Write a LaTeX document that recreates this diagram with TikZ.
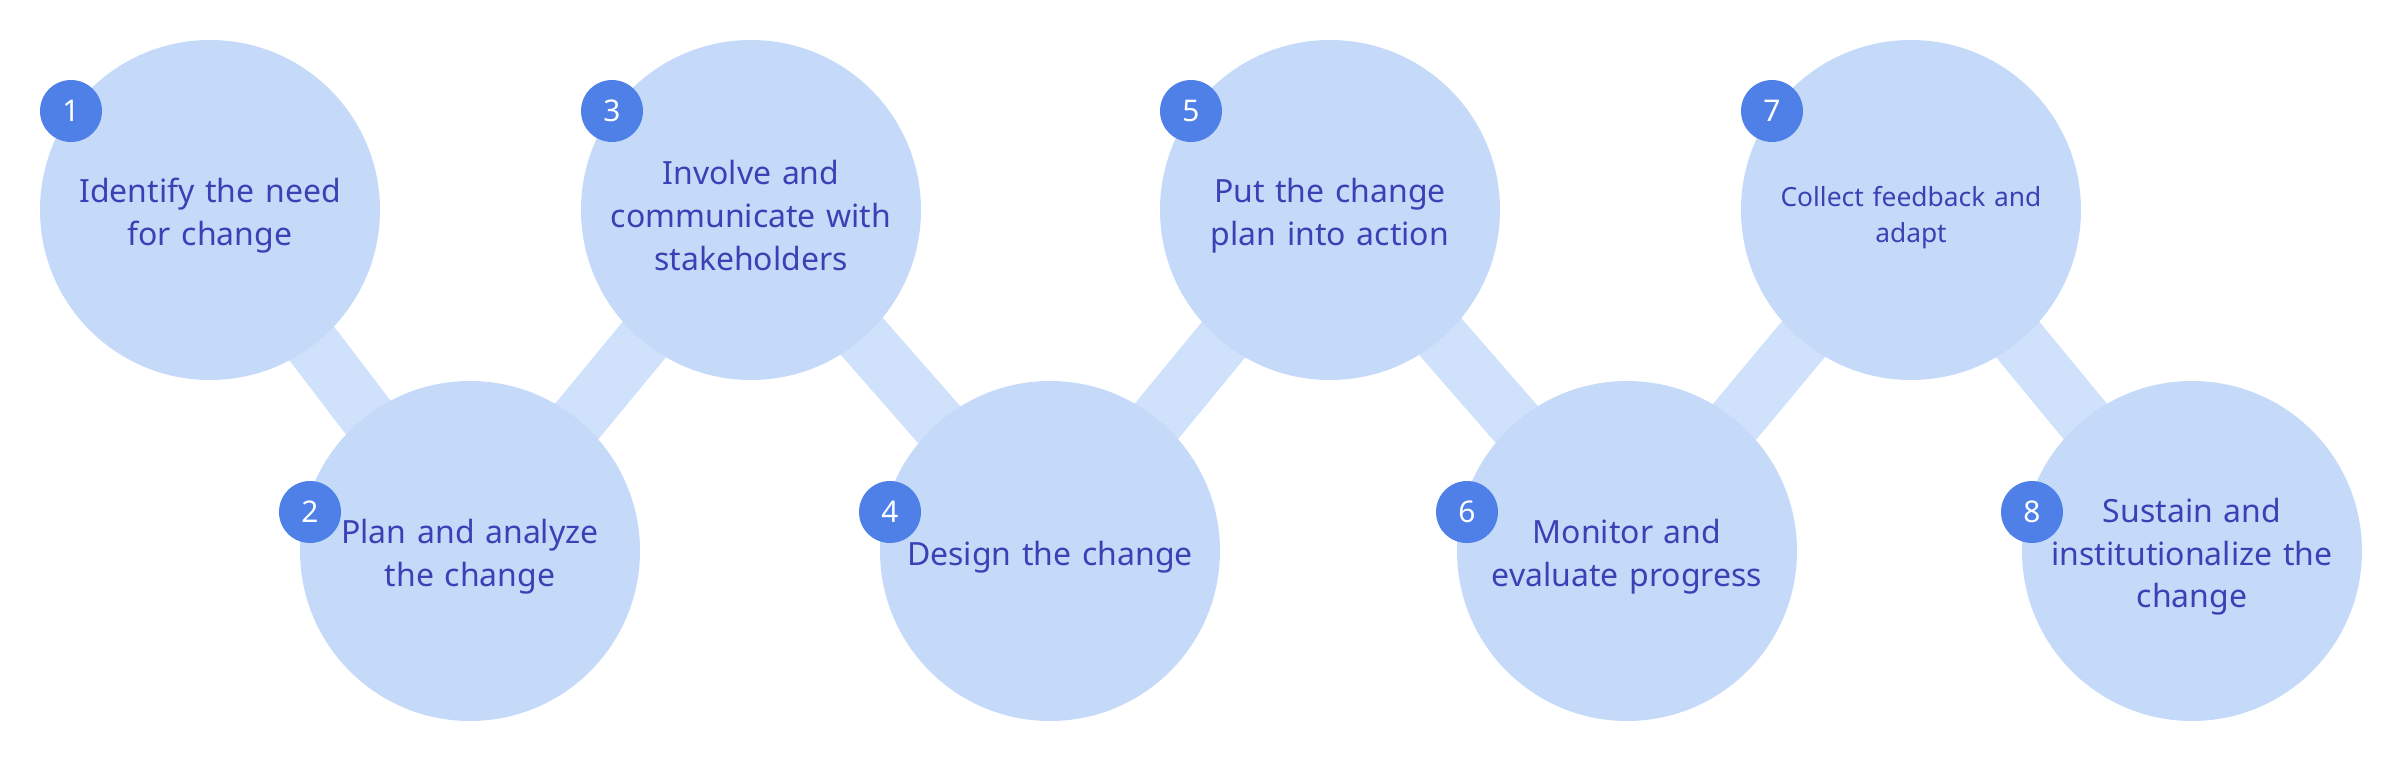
\documentclass[tikz,border=0pt]{standalone}
\usepackage{fontspec}
\setmainfont{Noto Sans}
\usepackage{tikz}
\usetikzlibrary{positioning, calc, backgrounds}
\definecolor{mycircle}{RGB}{197,218,249}
\definecolor{mybadge}{RGB}{79,128,232}
\definecolor{mytext}{RGB}{59,64,181}
\definecolor{mylink}{RGB}{208,225,251}
\tikzset{
  stepnode/.style={circle, fill=mycircle, minimum size=3.4cm, inner sep=0pt,
    text width=3.0cm, align=center, text=mytext,
    font=\fontsize{9.1}{12.2}\selectfont,
    execute at begin node={\rule{0pt}{10.2pt}}},
  smallstep/.style={stepnode, font=\fontsize{7.5}{10.2}\selectfont,
    execute at begin node={\rule{0pt}{8.6pt}}},
  badge/.style={circle, fill=mybadge, minimum size=0.62cm, inner sep=0pt,
    text=white, font=\fontsize{8.5}{10}\selectfont},
  link/.style={line width=0.56cm, color=mylink}
}

\begin{document}
\begin{tikzpicture}
  \useasboundingbox (0,0) rectangle (24.03,7.61);
  % step circles (top row and bottom row)
  \node[stepnode] (s1) at (2.10,5.51) {Identify the need\\for change};
  \node[stepnode] (s2) at (4.70,2.10) {Plan and analyze\\the change};
  \node[stepnode] (s3) at (7.51,5.51) {Involve and\\communicate with\\stakeholders};
  \node[stepnode] (s4) at (10.50,2.10) {Design the change};
  \node[stepnode] (s5) at (13.30,5.51) {Put the change\\plan into action};
  \node[stepnode] (s6) at (16.27,2.10) {Monitor and\\evaluate progress};
  \node[smallstep] (s7) at (19.11,5.51) {Collect feedback and\\adapt};
  \node[stepnode] (s8) at (21.92,2.10) {Sustain and\\institutionalize the\\change};
  % number badges
  \foreach \i in {1,3,5,7} {
     \node[badge] (b\i) at ($(s\i.center)+(-1.39,0.99)$) {\i};
  }
  \foreach \i in {2,4,6,8} {
     \node[badge] (b\i) at ($(s\i.center)+(-1.60,0.39)$) {\i};
  }
  % bars between the circles
  \begin{pgfonlayer}{background}
    \foreach \a/\b in {1/2, 2/3, 3/4, 4/5, 5/6, 6/7, 7/8} {
       \draw[link] (s\a.center) -- (s\b.center);
    }
  \end{pgfonlayer}
\end{tikzpicture}
\end{document}
